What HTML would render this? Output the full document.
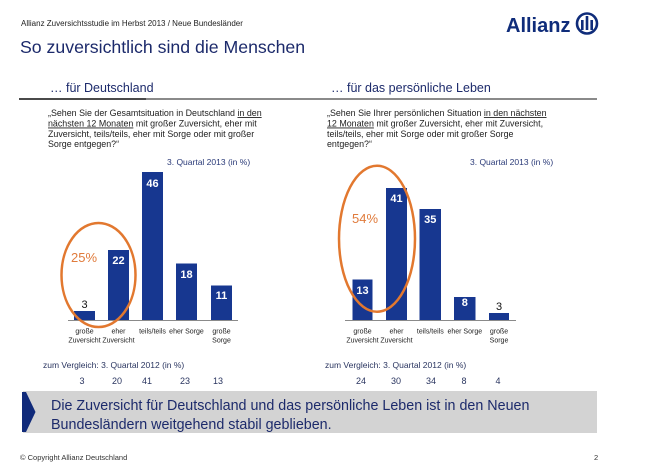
<!DOCTYPE html>
<html><head><meta charset="utf-8">
<style>
html,body{margin:0;padding:0;background:#fff;}
svg{display:block;}
text{font-family:"Liberation Sans",Arial,sans-serif;}
</style></head>
<body>
<svg width="668" height="462" viewBox="0 0 668 462" xmlns="http://www.w3.org/2000/svg">
<rect width="668" height="462" fill="#fff"/>
<!-- header -->
<text x="21" y="26" font-size="8" fill="#222">Allianz Zuversichtsstudie im Herbst 2013 / Neue Bundesländer</text>
<text x="20" y="53" font-size="17.7" fill="#1c2a6b">So zuversichtlich sind die Menschen</text>
<!-- logo -->
<text x="506" y="32" font-size="20" font-weight="bold" fill="#0f2c7a">Allianz</text>
<circle cx="587" cy="23.5" r="10" fill="none" stroke="#0f2c7a" stroke-width="2.6"/>
<rect x="581" y="20" width="2.6" height="10" fill="#0f2c7a"/>
<rect x="585.7" y="16" width="2.6" height="14" fill="#0f2c7a"/>
<rect x="590.4" y="20" width="2.6" height="10" fill="#0f2c7a"/>
<!-- subheaders -->
<text x="50" y="92" font-size="12.5" fill="#1c2a6b">… für Deutschland</text>
<text x="331" y="92" font-size="12.5" fill="#1c2a6b">… für das persönliche Leben</text>
<rect x="19" y="98" width="127" height="2" fill="#4a4a4a"/>
<rect x="146" y="98" width="451" height="2" fill="#8a8a8a"/>

<!-- left question -->
<g font-size="8.9" fill="#222">
<text x="48" y="116">„Sehen Sie der Gesamtsituation in Deutschland <tspan text-decoration="underline">in den</tspan></text>
<text x="48" y="126.5"><tspan text-decoration="underline">nächsten 12 Monaten</tspan> mit großer Zuversicht, eher mit</text>
<text x="48" y="137">Zuversicht, teils/teils, eher mit Sorge oder mit großer</text>
<text x="48" y="147">Sorge entgegen?“</text>
</g>
<text x="167" y="165" font-size="8.5" fill="#2a3a78">3. Quartal 2013 (in %)</text>

<!-- right question -->
<g font-size="8.9" fill="#222">
<text x="327" y="116">„Sehen Sie Ihrer persönlichen Situation <tspan text-decoration="underline">in den nächsten</tspan></text>
<text x="327" y="126.5"><tspan text-decoration="underline">12 Monaten</tspan> mit großer Zuversicht, eher mit Zuversicht,</text>
<text x="327" y="137">teils/teils, eher mit Sorge oder mit großer Sorge</text>
<text x="327" y="147">entgegen?“</text>
</g>
<text x="470" y="165" font-size="8.5" fill="#2a3a78">3. Quartal 2013 (in %)</text>

<!-- left chart -->
<g fill="#173790">
<rect x="74" y="311" width="21" height="9.5"/>
<rect x="108" y="250" width="21" height="70.5"/>
<rect x="142" y="172" width="21" height="148.5"/>
<rect x="176" y="263.5" width="21" height="57"/>
<rect x="211" y="285.5" width="21" height="35"/>
</g>
<line x1="68" y1="320.5" x2="238" y2="320.5" stroke="#8a8a8a" stroke-width="1"/>
<g font-size="11" font-weight="bold" fill="#fff" text-anchor="middle">
<text x="118.5" y="264">22</text>
<text x="152.5" y="187">46</text>
<text x="186.5" y="278">18</text>
<text x="221.5" y="299">11</text>
</g>
<text x="84.5" y="308" font-size="11" fill="#111" text-anchor="middle">3</text>
<ellipse cx="98.5" cy="275" rx="37" ry="52" fill="none" stroke="#e2782f" stroke-width="2.5"/>
<text x="71" y="262" font-size="13" fill="#e07b3c">25%</text>
<g font-size="7" fill="#222" text-anchor="middle">
<text x="84.5" y="333.5">große</text>
<text x="84.5" y="342.5">Zuversicht</text>
<text x="118.5" y="333.5">eher</text>
<text x="118.5" y="342.5">Zuversicht</text>
<text x="152.5" y="333.5">teils/teils</text>
<text x="186.5" y="333.5">eher Sorge</text>
<text x="221.5" y="333.5">große</text>
<text x="221.5" y="342.5">Sorge</text>
</g>

<!-- right chart -->
<g fill="#173790">
<rect x="352.5" y="279.5" width="20" height="41"/>
<rect x="386" y="188" width="21" height="132.5"/>
<rect x="419.5" y="209" width="21.5" height="111.5"/>
<rect x="454" y="297" width="21.5" height="23.5"/>
<rect x="489" y="313" width="20" height="7.5"/>
</g>
<line x1="345" y1="320.5" x2="516" y2="320.5" stroke="#8a8a8a" stroke-width="1"/>
<g font-size="11" font-weight="bold" fill="#fff" text-anchor="middle">
<text x="362.5" y="294">13</text>
<text x="396.5" y="202">41</text>
<text x="430.3" y="223">35</text>
<text x="464.8" y="306">8</text>
</g>
<text x="499" y="310" font-size="11" fill="#111" text-anchor="middle">3</text>
<ellipse cx="377" cy="238.7" rx="38" ry="73" fill="none" stroke="#e2782f" stroke-width="2.5"/>
<text x="352" y="223" font-size="13" fill="#e07b3c">54%</text>
<g font-size="7" fill="#222" text-anchor="middle">
<text x="362.5" y="333.5">große</text>
<text x="362.5" y="342.5">Zuversicht</text>
<text x="396.5" y="333.5">eher</text>
<text x="396.5" y="342.5">Zuversicht</text>
<text x="430.3" y="333.5">teils/teils</text>
<text x="464.8" y="333.5">eher Sorge</text>
<text x="499" y="333.5">große</text>
<text x="499" y="342.5">Sorge</text>
</g>

<!-- comparisons -->
<g font-size="8.5" fill="#2a3560">
<text x="43" y="368">zum Vergleich: 3. Quartal 2012 (in %)</text>
<text x="325" y="368">zum Vergleich: 3. Quartal 2012 (in %)</text>
</g>
<g font-size="9" fill="#2a3560" text-anchor="middle">
<text x="82" y="384">3</text>
<text x="117" y="384">20</text>
<text x="147" y="384">41</text>
<text x="185" y="384">23</text>
<text x="218" y="384">13</text>
<text x="361" y="384">24</text>
<text x="396" y="384">30</text>
<text x="431" y="384">34</text>
<text x="464" y="384">8</text>
<text x="498" y="384">4</text>
</g>

<!-- summary box -->
<rect x="23" y="391" width="574" height="42" fill="#d3d3d3"/>
<polygon points="22,392 26,392 35.5,412 26,432 22,432" fill="#102a7a"/>
<g font-size="14.3" fill="#1c2a6b">
<text x="51" y="410">Die Zuversicht für Deutschland und das persönliche Leben ist in den Neuen</text>
<text x="51" y="429">Bundesländern weitgehend stabil geblieben.</text>
</g>

<!-- footer -->
<text x="20" y="460" font-size="7.5" fill="#333">© Copyright Allianz Deutschland</text>
<text x="594" y="460" font-size="7.5" fill="#333">2</text>
</svg>
</body></html>
